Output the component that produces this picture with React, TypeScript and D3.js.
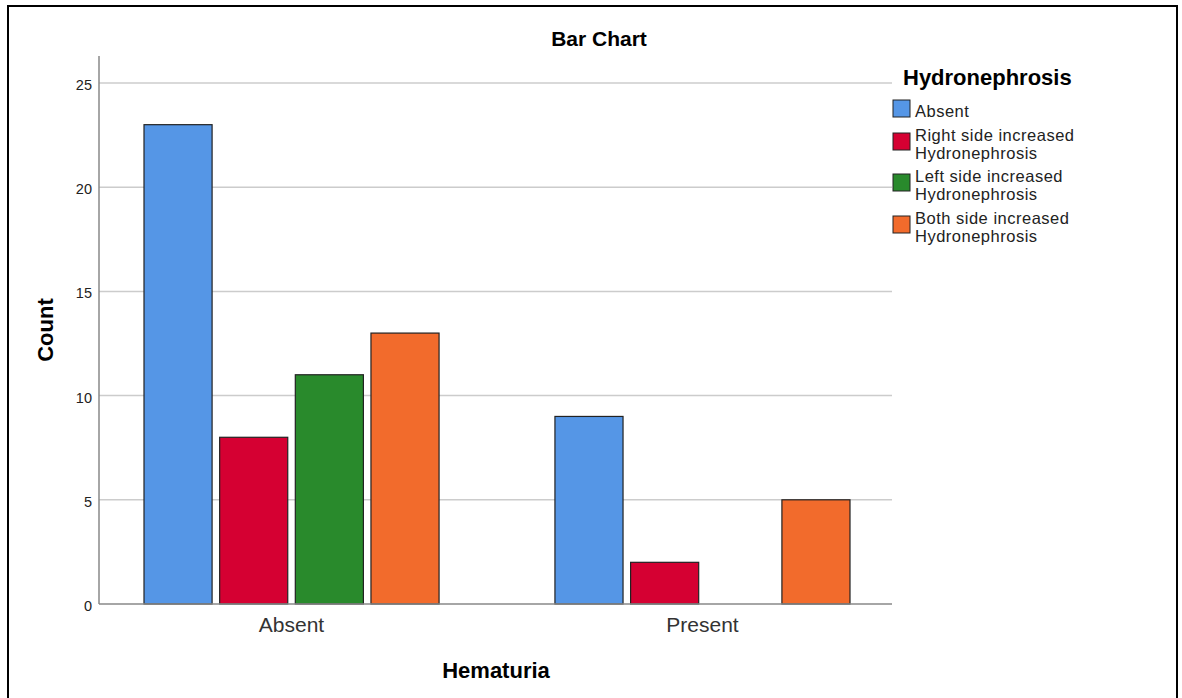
import * as React from "react";
import * as d3 from "d3";

const groups: string[] = ["Absent", "Present"];
const series: string[] = [
  "Absent",
  "Right side increased Hydronephrosis",
  "Left side increased Hydronephrosis",
  "Both side increased Hydronephrosis"
];
const legendLines: string[][] = [
  ["Absent"],
  ["Right side increased", "Hydronephrosis"],
  ["Left side increased", "Hydronephrosis"],
  ["Both side increased", "Hydronephrosis"]
];
const colors: string[] = ["#5596e6", "#d50032", "#298a2c", "#f26b2c"];
// counts[group][series]
const counts: number[][] = [
  [23, 8, 11, 13],
  [9, 2, 0, 5]
];
const yTicks: number[] = [0, 5, 10, 15, 20, 25];

const W = 1182;
const H = 698;
const left = 99;
const right = 892;
const top = 56;
const bottom = 604;
const font = "'Liberation Sans', Arial, sans-serif";

const yScale = d3.scaleLinear().domain([0, 25]).range([bottom, 83]);
const xGroup = d3
  .scaleBand<string>()
  .domain(groups)
  .range([144, 850])
  .paddingInner(0.282)
  .paddingOuter(0);
const xSeries = d3
  .scaleBand<string>()
  .domain(series)
  .range([0, xGroup.bandwidth()])
  .paddingInner(0.1);

// legend swatch tops
const legendTops = [100, 133, 174, 216];

export default function App() {
  return (
    <svg
      width={W}
      height={H}
      style={{ position: "absolute", left: 0, top: 0, background: "#fff" }}
      fontFamily={font}
    >
      <rect x={8} y={6} width={1169} height={720} fill="#fff" stroke="#000" strokeWidth={2} />
      <text x={599} y={46} textAnchor="middle" fontSize={21} fontWeight="bold" fill="#000">
        Bar Chart
      </text>

      {yTicks.map(t => (
        <g key={t}>
          {t > 0 && (
            <line x1={left} x2={right} y1={yScale(t)} y2={yScale(t)} stroke="#cccccc" strokeWidth={1.5} />
          )}
          <text x={92} y={yScale(t) + 7} textAnchor="end" fontSize={14.5} fill="#222">
            {t}
          </text>
        </g>
      ))}

      {groups.map((g, gi) => (
        <g key={g} transform={`translate(${xGroup(g)},0)`}>
          {series.map((s, si) => {
            const v = counts[gi][si];
            if (v <= 0) return null;
            return (
              <rect
                key={s}
                x={xSeries(s)}
                y={yScale(v)}
                width={xSeries.bandwidth()}
                height={yScale(0) - yScale(v)}
                fill={colors[si]}
                stroke="#222"
                strokeWidth={1.2}
              />
            );
          })}
          <text
            x={xGroup.bandwidth() / 2}
            y={632}
            textAnchor="middle"
            fontSize={21}
            fill="#333"
          >
            {g}
          </text>
        </g>
      ))}

      <line x1={left} x2={left} y1={top} y2={bottom} stroke="#888" strokeWidth={1.5} />
      <line x1={left} x2={right} y1={bottom} y2={bottom} stroke="#888" strokeWidth={1.5} />

      <text
        transform={`translate(53,330) rotate(-90)`}
        textAnchor="middle"
        fontSize={22}
        fontWeight="bold"
        fill="#000"
      >
        Count
      </text>
      <text x={496} y={678} textAnchor="middle" fontSize={22} fontWeight="bold" fill="#000">
        Hematuria
      </text>

      <text x={903} y={85} fontSize={22} fontWeight="bold" fill="#000">
        Hydronephrosis
      </text>
      {series.map((s, i) => {
        const y0 = legendTops[i];
        const multi = legendLines[i].length > 1;
        return (
          <g key={s}>
            <rect x={893} y={y0} width={17} height={17} fill={colors[i]} stroke="#222" strokeWidth={1} />
            {legendLines[i].map((ln, li) => (
              <text
                key={li}
                x={915}
                y={y0 + (multi ? 7.5 : 17) + li * 18}
                fontSize={16.5}
                letterSpacing={0.5}
                fill="#222"
              >
                {ln}
              </text>
            ))}
          </g>
        );
      })}
    </svg>
  );
}
